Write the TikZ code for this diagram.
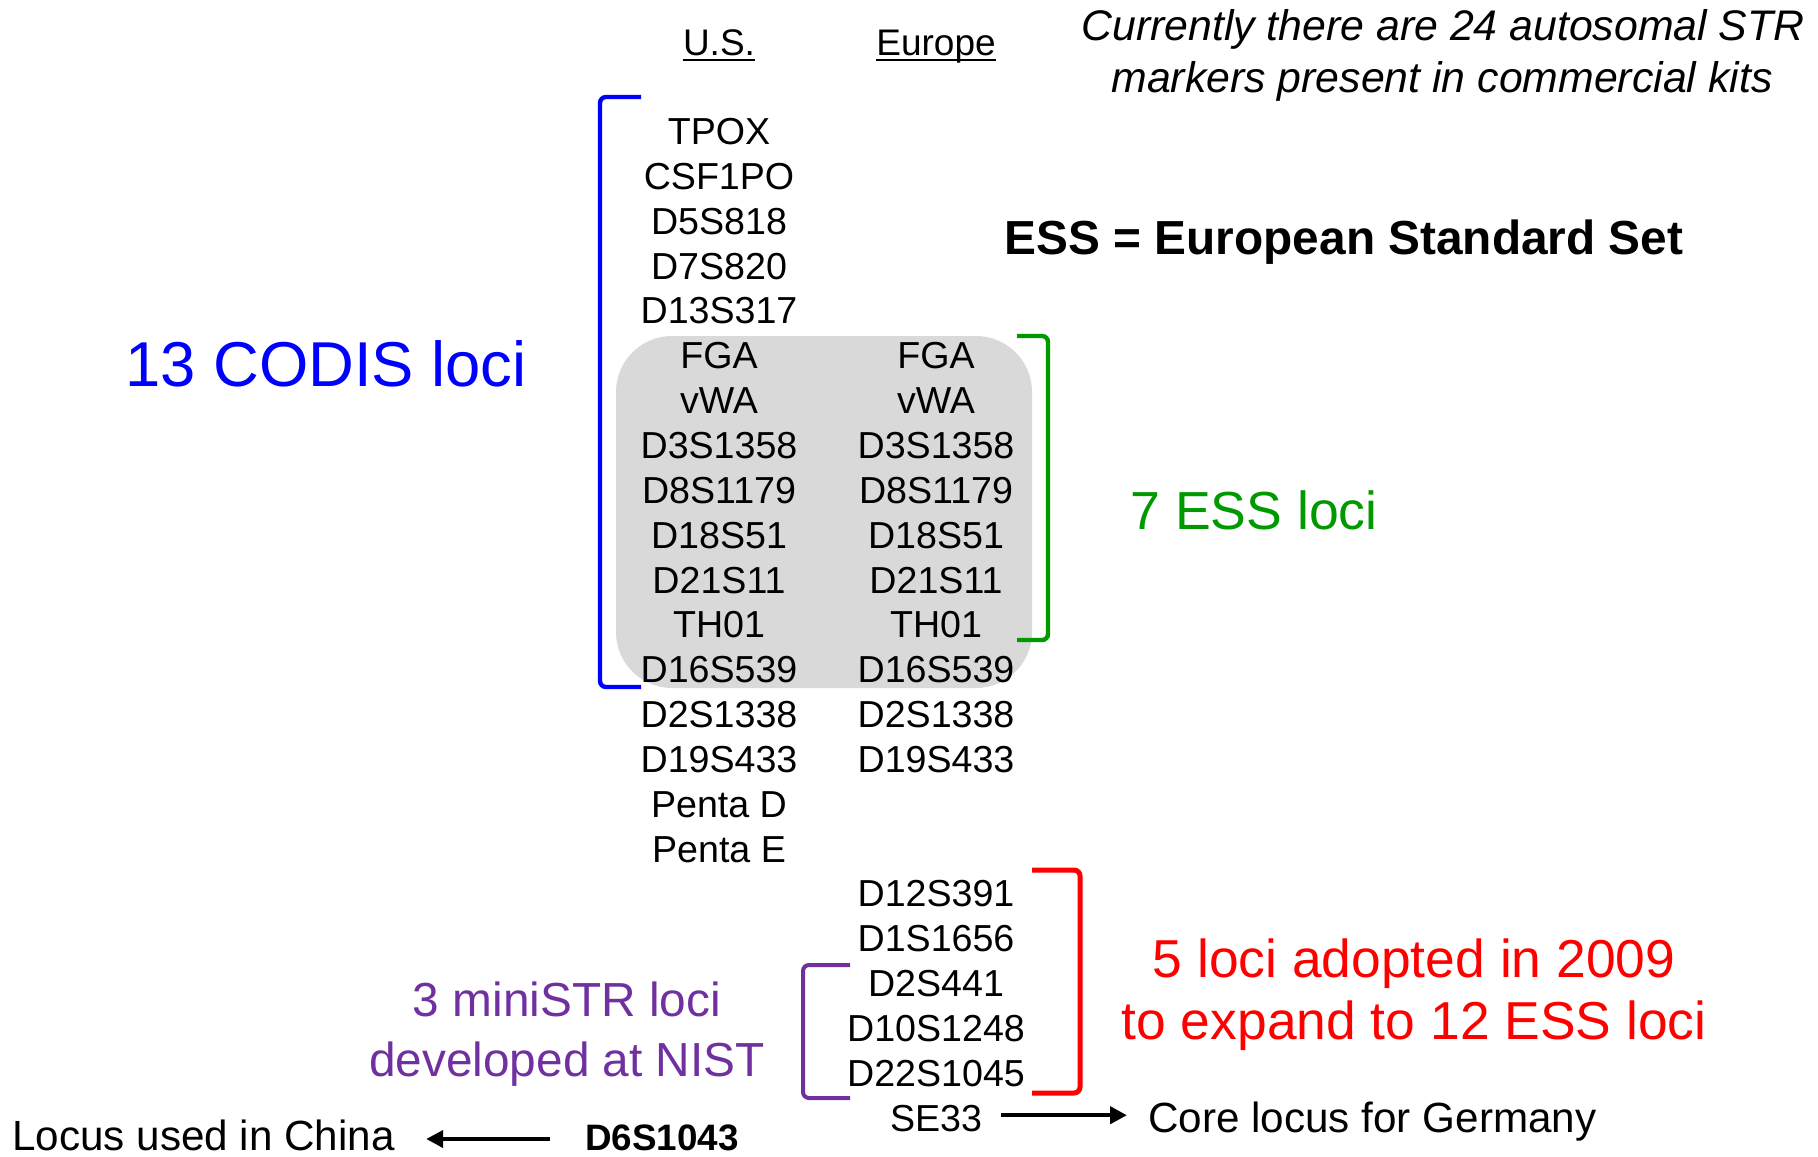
\documentclass[tikz,border=0pt]{standalone}
\usepackage{fontspec}
\setmainfont{Liberation Sans}
\usetikzlibrary{arrows.meta,calc}
\definecolor{codisblue}{HTML}{0000FF}
\definecolor{essgreen}{HTML}{009900}
\definecolor{newred}{HTML}{FF0000}
\definecolor{nistpurple}{HTML}{7030A0}
\definecolor{shared}{HTML}{D9D9D9}

\begin{document}
\begin{tikzpicture}[x=0.5pt,y=-0.5pt,
  txt/.style={inner sep=0pt, anchor=base},
  locus/.style={txt, font=\fontsize{18.8}{22}\selectfont},
  remark/.style={txt, anchor=base west, font=\fontsize{21.1}{25}\selectfont},
  colhead/.style={txt, font=\fontsize{18.5}{22}\selectfont},
  bigred/.style={txt, text=newred, font=\fontsize{26.7}{32}\selectfont},
  nist/.style={txt, text=nistpurple, font=\fontsize{23.9}{28}\selectfont},
  note/.style={txt, font=\itshape\fontsize{21.4}{26}\selectfont},
  bracket/.style={line width=2.2pt, rounded corners=3pt},
  pointer/.style={line width=2pt, -{Triangle[length=8.5pt,width=8.5pt]}}]
\useasboundingbox (0,0) rectangle (1818,1156);

% loci shared by both sets
\fill[shared, rounded corners=28pt] (616,336) rectangle (1032,688);

% column headings
\node[colhead] (ushead) at (719,56) {U.S.};
\node[colhead] (euhead) at (936,56) {Europe};
\draw[line width=1.2pt] ($(ushead.base west)+(0,4)$) -- ($(ushead.base east)+(0,4)$);
\draw[line width=1.2pt] ($(euhead.base west)+(0,4)$) -- ($(euhead.base east)+(0,4)$);

% U.S. column
\foreach \name [count=\i from 0] in {TPOX,CSF1PO,D5S818,D7S820,D13S317,FGA,vWA,D3S1358,D8S1179,D18S51,D21S11,TH01,D16S539,D2S1338,D19S433,Penta D,Penta E}
  \node[locus] (us\i) at (719,144.5+44.85*\i) {\name};

% Europe column
\foreach \name [count=\i from 5] in {FGA,vWA,D3S1358,D8S1179,D18S51,D21S11,TH01,D16S539,D2S1338,D19S433}
  \node[locus] (eu\i) at (936,144.5+44.85*\i) {\name};
\foreach \name [count=\i from 17] in {D12S391,D1S1656,D2S441,D10S1248,D22S1045,SE33}
  \node[locus] (eu\i) at (936,144.5+44.85*\i) {\name};

% brackets
\draw[bracket, codisblue] (641,97) -- (600,97) -- (600,687) -- (641,687);
\draw[bracket, essgreen] (1017,336) -- (1048,336) -- (1048,640) -- (1017,640);
\draw[bracket, newred, line width=2.5pt] (1032,870) -- (1080,870) -- (1080,1093) -- (1032,1093);
\draw[bracket, nistpurple, line width=2pt] (850,965) -- (803,965) -- (803,1098) -- (850,1098);

% labels
\node[note] (note1) at (1443,41) {Currently there are 24 autosomal STR};
\node[note] (note2) at (1442,92) {markers present in commercial kits};
\node[txt, font=\bfseries\fontsize{23.9}{28}\selectfont] (ess) at (1344,254) {ESS = European Standard Set};
\node[txt, text=codisblue, font=\fontsize{31.7}{38}\selectfont] (codis) at (326,386) {13 CODIS loci};
\node[txt, text=essgreen, font=\fontsize{26.8}{32}\selectfont] (essloci) at (1254,529) {7 ESS loci};
\node[bigred] (red1) at (1414,977) {5 loci adopted in 2009};
\node[bigred] (red2) at (1414,1039) {to expand to 12 ESS loci};
\node[nist] (nist1) at (567,1016) {3 miniSTR loci};
\node[nist] (nist2) at (567,1076) {developed at NIST};

\node[remark] (core) at (1148,1132) {Core locus for Germany};
\node[remark] (china) at (12,1150) {Locus used in China};
\node[txt, font=\bfseries\fontsize{18.4}{22}\selectfont] (d6) at (662,1150) {D6S1043};

% pointers
\coordinate (se33tail) at ($(eu22.base east)+(19,-16)$);
\coordinate (coretip) at ($(core.base west)+(-21,0)$);
\draw[pointer] (se33tail) -- (se33tail -| coretip);
\coordinate (d6tail) at ($(d6.base west)+(-35,-11)$);
\coordinate (chinatip) at ($(china.base east)+(31,0)$);
\draw[pointer] (d6tail) -- (d6tail -| chinatip);
\end{tikzpicture}
\end{document}
